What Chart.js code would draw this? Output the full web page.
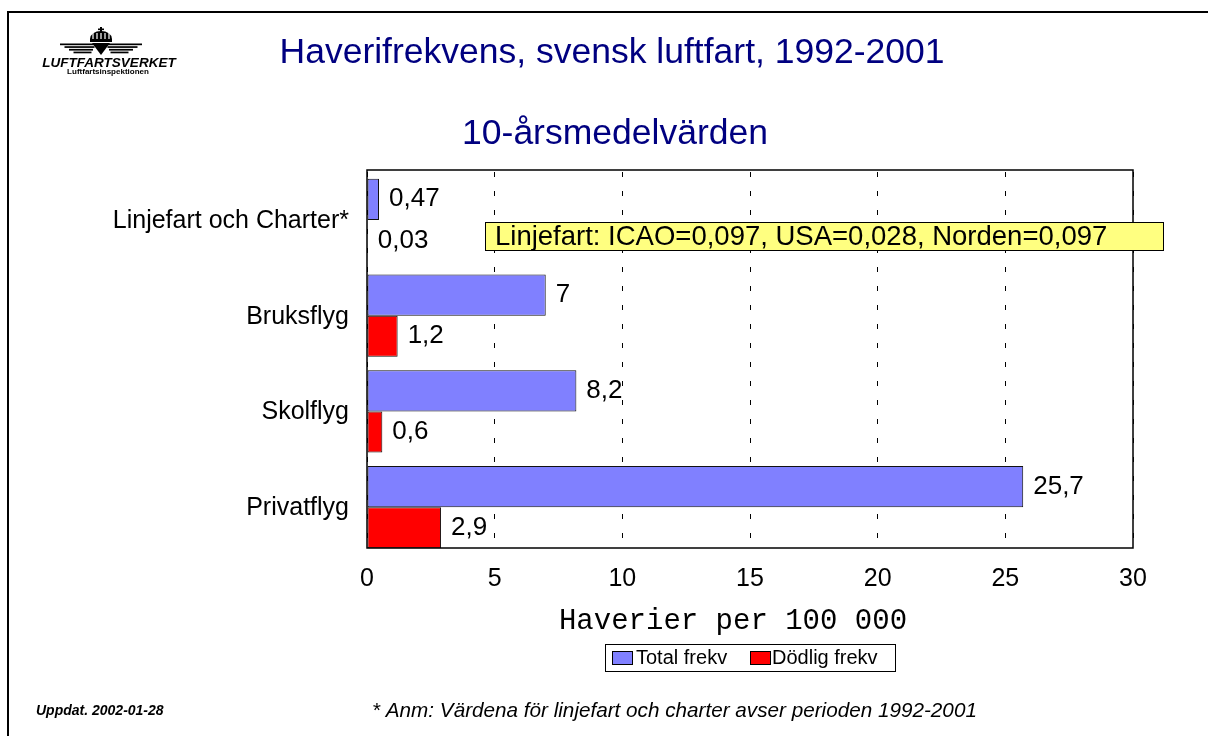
<!DOCTYPE html>
<html>
<head>
<meta charset="utf-8">
<script src="https://cdn.jsdelivr.net/npm/chart.js@4/dist/chart.umd.min.js"></script>
<style>
  html, body { margin: 0; padding: 0; background: #fff; }
  canvas { display: block; }
</style>
</head>
<body>
<canvas id="haveriChart" width="1208" height="736"></canvas>
<script>
// --- data ---
const categories = ['Linjefart och Charter*', 'Bruksflyg', 'Skolflyg', 'Privatflyg'];
const totalFrekv = [0.47, 7, 8.2, 25.7];
const dodligFrekv = [0.03, 1.2, 0.6, 2.9];
const xTicks = [0, 5, 10, 15, 20, 25, 30];

const FONT = '"Liberation Sans", Arial, sans-serif';
const FRAME_TOP = 170, FRAME_BOTTOM = 548;

function fmt(v) {
  return String(v).replace('.', ',');
}

function drawLogo(ctx) {
  ctx.fillStyle = '#000';
  // crown
  ctx.beginPath();
  ctx.ellipse(101, 39, 11, 8, 0, Math.PI, 0);
  ctx.fill();
  ctx.fillStyle = '#fff';
  for (let k = -2; k <= 2; k++) {
    ctx.fillRect(100.4 + k * 4, 33, 1.2, 6);
  }
  ctx.fillStyle = '#000';
  ctx.fillRect(90, 39, 22, 3);
  ctx.fillRect(100, 27, 2, 5);
  ctx.fillRect(98, 28.5, 6, 1.6);
  // wings
  for (let k = 0; k < 4; k++) {
    const y = 43.5 + k * 2.7;
    const w = 36 - k * 6;
    ctx.fillRect(96 - w - k * 1.5, y, w, 1.7);
    ctx.fillRect(106 + k * 1.5, y, w, 1.7);
  }
  ctx.beginPath();
  ctx.moveTo(92, 43);
  ctx.lineTo(110, 43);
  ctx.lineTo(101, 55);
  ctx.closePath();
  ctx.fill();
  ctx.textAlign = 'center';
  ctx.textBaseline = 'middle';
  ctx.font = 'italic 900 13.5px ' + FONT;
  ctx.fillText('LUFTFARTSVERKET', 109, 63);
  ctx.font = 'bold 8px ' + FONT;
  ctx.fillText('Luftfartsinspektionen', 108, 72);
}

// value labels, logo, titles, frame, note box, legend, footer
const decor = {
  id: 'decor',
  afterDatasetsDraw(chart) {
    const ctx = chart.ctx;
    ctx.save();
    ctx.font = '26px ' + FONT;
    ctx.fillStyle = '#000';
    ctx.textAlign = 'left';
    ctx.textBaseline = 'middle';
    chart.data.datasets.forEach((ds, i) => {
      chart.getDatasetMeta(i).data.forEach((bar, j) => {
        ctx.fillText(fmt(ds.data[j]), bar.x + 10, bar.y);
      });
    });
    ctx.restore();
  },
  afterDraw(chart) {
    const ctx = chart.ctx;
    const a = chart.chartArea;
    ctx.save();

    // hide grid below the plot frame
    ctx.fillStyle = '#fff';
    ctx.fillRect(a.left - 2, FRAME_BOTTOM + 1, a.right - a.left + 4, a.bottom - FRAME_BOTTOM + 1);

    // plot frame
    ctx.strokeStyle = '#000';
    ctx.lineWidth = 1.5;
    ctx.strokeRect(a.left, FRAME_TOP, a.right - a.left, FRAME_BOTTOM - FRAME_TOP);

    // slide frame
    ctx.lineWidth = 2;
    ctx.beginPath();
    ctx.moveTo(8, 736);
    ctx.lineTo(8, 12);
    ctx.lineTo(1208, 12);
    ctx.stroke();

    drawLogo(ctx);

    // titles
    ctx.fillStyle = '#000080';
    ctx.textAlign = 'center';
    ctx.font = '35.5px ' + FONT;
    ctx.fillText('Haverifrekvens, svensk luftfart, 1992-2001', 612, 53);
    ctx.fillText('10-årsmedelvärden', 615, 134);

    // note box
    ctx.fillStyle = '#ffff80';
    ctx.fillRect(485, 222, 678, 28);
    ctx.strokeStyle = '#000';
    ctx.lineWidth = 1;
    ctx.strokeRect(485.5, 222.5, 678, 28);
    ctx.fillStyle = '#000';
    ctx.textAlign = 'left';
    ctx.font = '27.5px ' + FONT;
    ctx.fillText('Linjefart: ICAO=0,097, USA=0,028, Norden=0,097', 495, 237);

    // axis title
    ctx.textAlign = 'center';
    ctx.font = '29px "Liberation Mono", "Courier New", monospace';
    ctx.fillText('Haverier per 100 000', 733, 621);

    // legend
    ctx.fillStyle = '#fff';
    ctx.fillRect(605, 644, 290, 27);
    ctx.strokeRect(605.5, 644.5, 290, 27);
    ctx.textAlign = 'left';
    ctx.font = '20px ' + FONT;
    const items = [[612, 636], [750, 772]];
    chart.data.datasets.forEach((ds, i) => {
      const [sx, tx] = items[i];
      ctx.fillStyle = ds.backgroundColor;
      ctx.fillRect(sx, 651, 20, 13);
      ctx.strokeRect(sx + 0.5, 651.5, 20, 13);
      ctx.fillStyle = '#000';
      ctx.fillText(ds.label, tx, 658);
    });

    // footer
    ctx.font = 'italic bold 14px ' + FONT;
    ctx.fillText('Uppdat. 2002-01-28', 36, 711);
    ctx.font = 'italic 20.7px ' + FONT;
    ctx.fillText('* Anm: Värdena för linjefart och charter avser perioden 1992-2001', 372, 711);

    ctx.restore();
  }
};

new Chart(document.getElementById('haveriChart'), {
  type: 'bar',
  data: {
    labels: categories,
    datasets: [
      {
        label: 'Total frekv',
        data: totalFrekv,
        backgroundColor: '#8080ff',
        borderColor: '#111',
        borderWidth: 1,
        borderSkipped: false
      },
      {
        label: 'Dödlig frekv',
        data: dodligFrekv,
        backgroundColor: '#ff0000',
        borderColor: '#111',
        borderWidth: 1,
        borderSkipped: false
      }
    ]
  },
  options: {
    indexAxis: 'y',
    responsive: false,
    animation: false,
    layout: { padding: { top: 172, right: 75, bottom: 0, left: 0 } },
    categoryPercentage: 0.86,
    barPercentage: 1,
    plugins: {
      legend: { display: false },
      tooltip: { enabled: false }
    },
    scales: {
      x: {
        min: 0,
        max: 30,
        afterBuildTicks: (axis) => { axis.ticks = xTicks.map(v => ({ value: v })); },
        afterFit: (axis) => { axis.height = 181; },
        ticks: {
          color: '#000',
          font: { size: 25, family: FONT },
          padding: 9,
          maxRotation: 0
        },
        grid: {
          color: '#000',
          lineWidth: 1,
          drawTicks: false
        },
        border: { display: false, dash: [5, 14] }
      },
      y: {
        afterFit: (axis) => { axis.width = 367; },
        ticks: {
          color: '#000',
          font: { size: 25, family: FONT },
          padding: 10,
          labelOffset: 1
        },
        grid: { display: false },
        border: { display: false }
      }
    }
  },
  plugins: [decor]
});
</script>
</body>
</html>
